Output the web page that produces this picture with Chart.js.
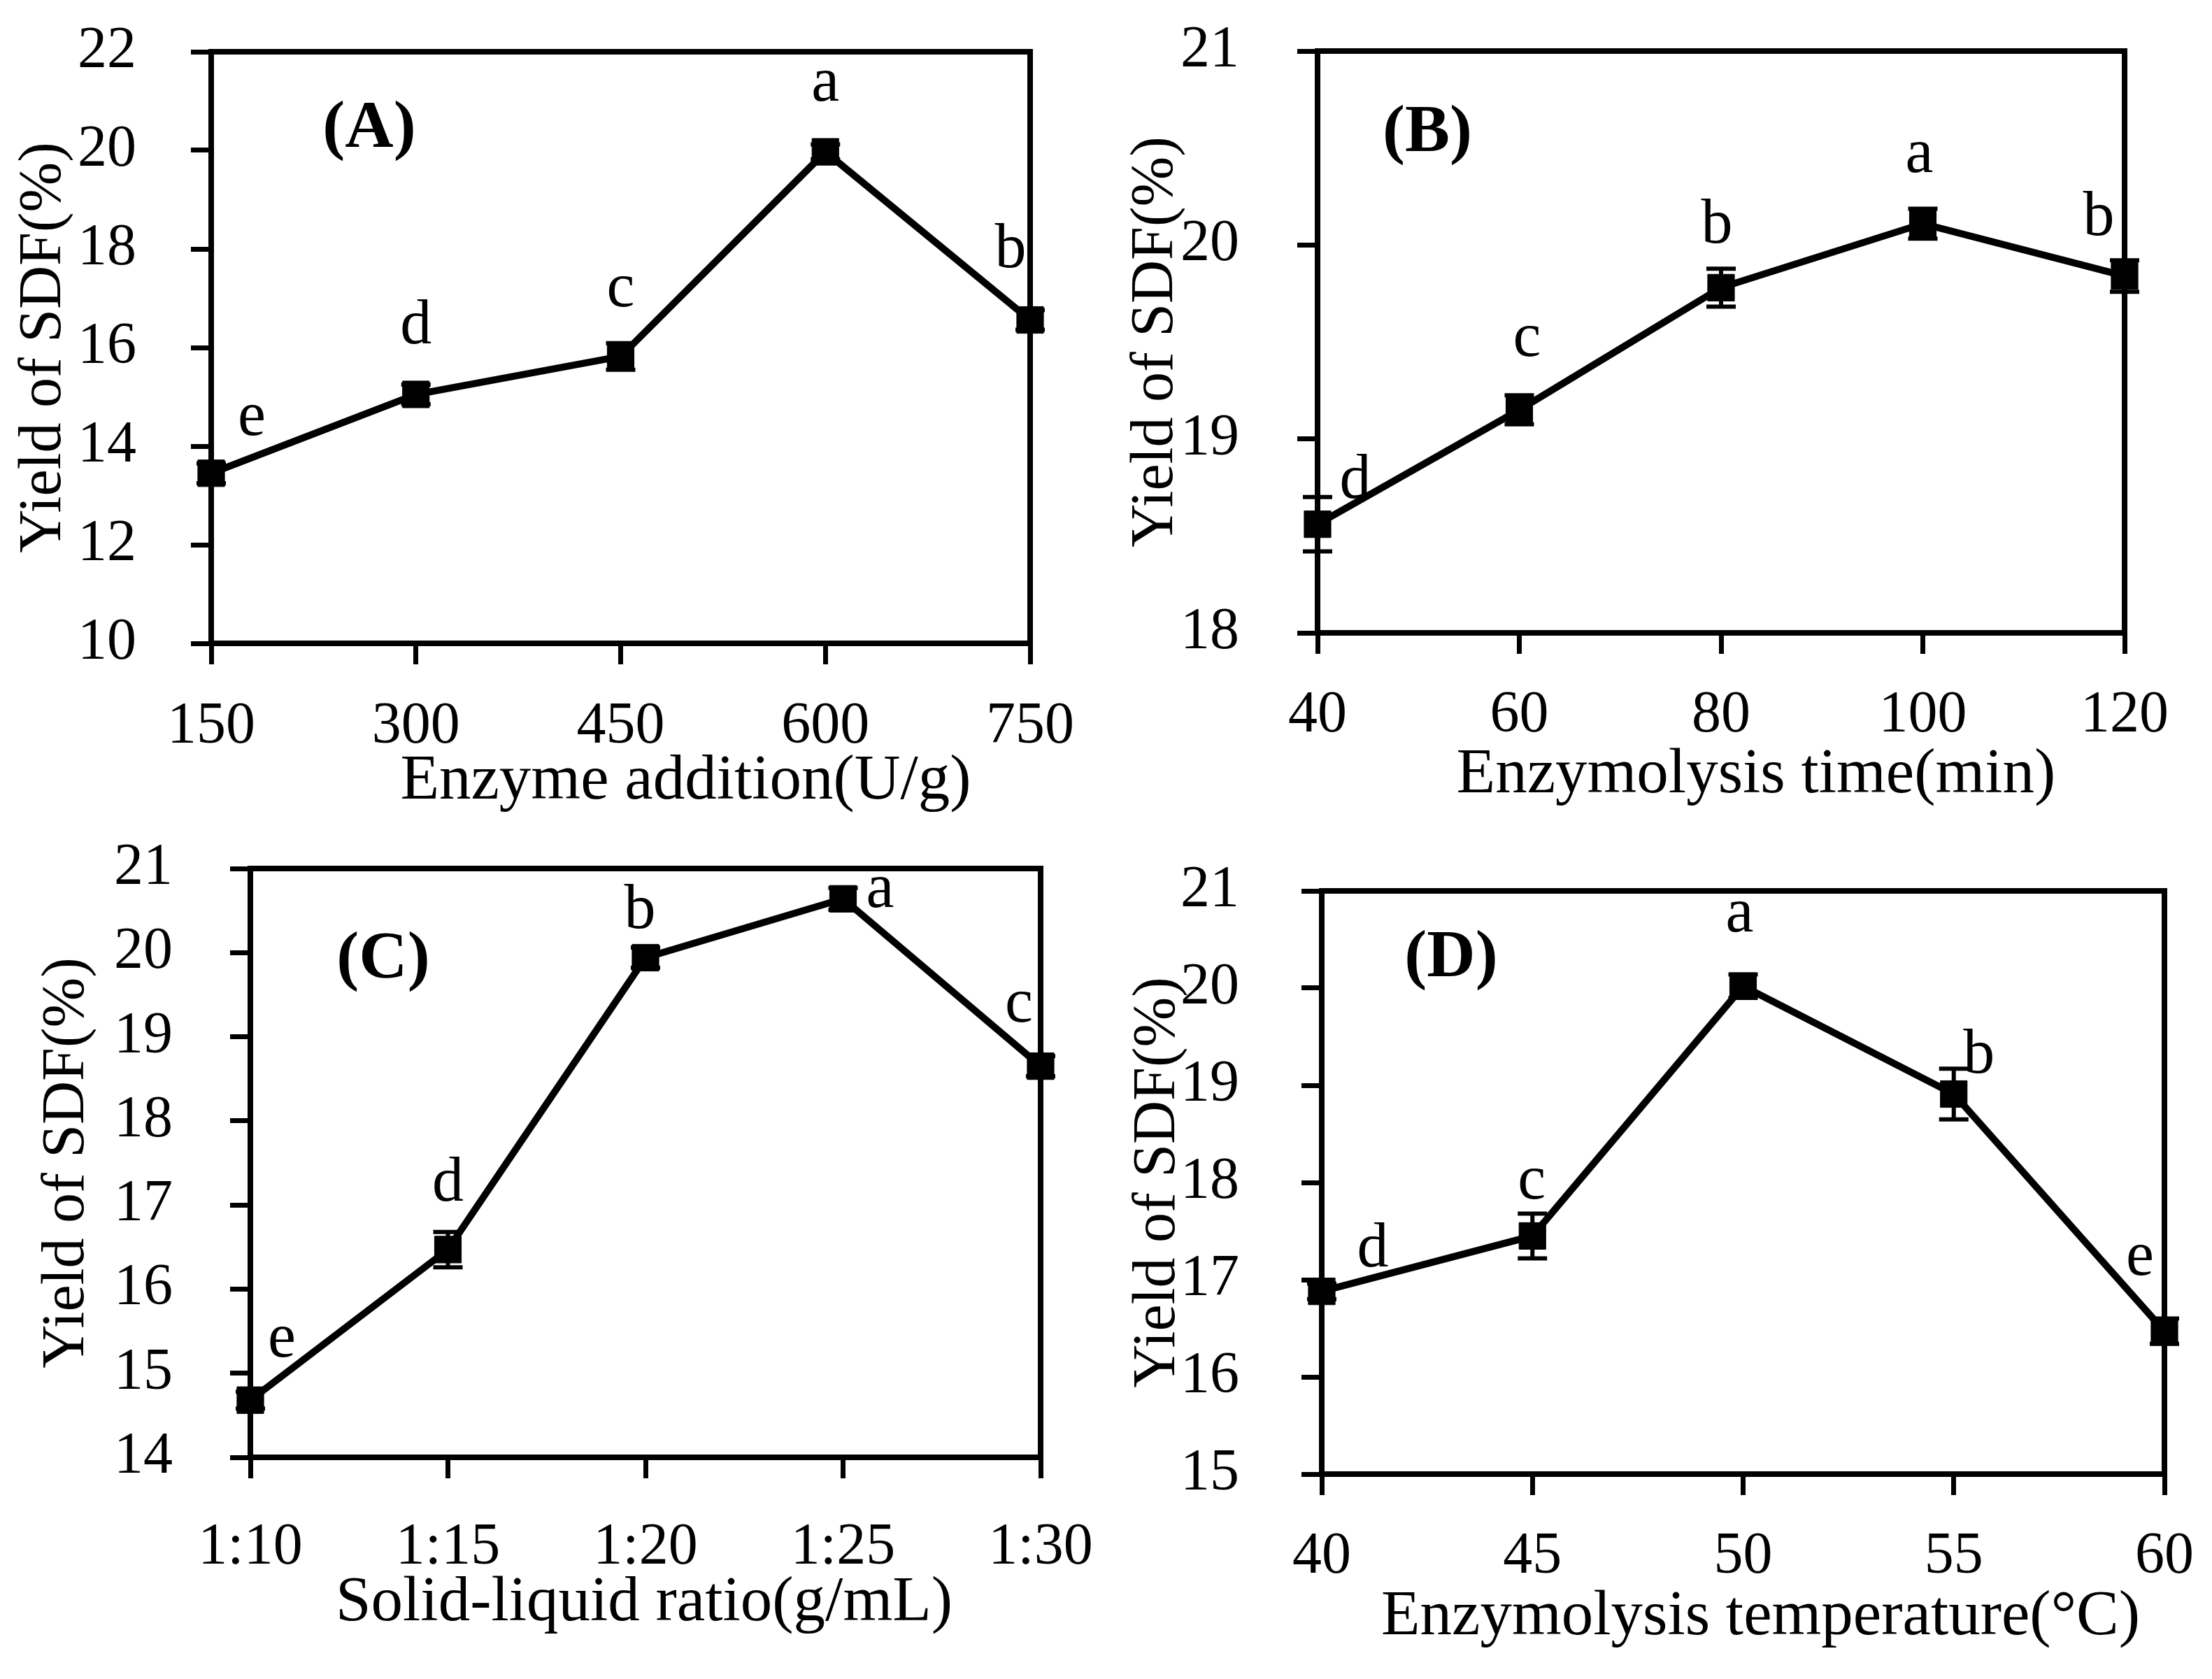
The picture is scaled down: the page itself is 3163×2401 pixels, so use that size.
<!DOCTYPE html>
<html lang="en">
<head>
    <meta charset="UTF-8">
    <title>Yield of SDF</title>
    <script src="https://cdn.jsdelivr.net/npm/chart.js@4.4.1/dist/chart.umd.min.js"></script>
    <style>
        body { margin: 0; background: #fff; }
        #wrap { position: relative; width: 3163px; height: 2401px; background: #fff; }
        canvas { position: absolute; }
    </style>
</head>
<body>
<div id="wrap">
    <canvas id="chartA" width="1580" height="1200" style="left:0px;top:0px"></canvas>
    <canvas id="chartB" width="1583" height="1200" style="left:1580px;top:0px"></canvas>
    <canvas id="chartC" width="1580" height="1231" style="left:0px;top:1170px"></canvas>
    <canvas id="chartD" width="1583" height="1201" style="left:1580px;top:1200px"></canvas>
</div>
<script>
// (A) enzyme addition
var enzymeLabels  = ['150', '300', '450', '600', '750'];
var enzymeYield   = [13.45, 15.05, 15.82, 19.97, 16.56];
var enzymeErr     = [0.2, 0.2, 0.27, 0.15, 0.2];
var enzymeLetters = ['e', 'd', 'c', 'a', 'b'];

// (B) enzymolysis time
var timeLabels  = ['40', '60', '80', '100', '120'];
var timeYield   = [18.56, 19.15, 19.78, 20.11, 19.84];
var timeErr     = [0.14, 0.075, 0.098, 0.077, 0.081];
var timeLetters = ['d', 'c', 'b', 'a', 'b'];

// (C) solid-liquid ratio
var ratioLabels  = ['1:10', '1:15', '1:20', '1:25', '1:30'];
var ratioYield   = [14.68, 16.47, 19.94, 20.64, 18.65];
var ratioErr     = [0.1, 0.21, 0.12, 0.13, 0.12];
var ratioLetters = ['e', 'd', 'b', 'a', 'c'];

// (D) enzymolysis temperature
var tempLabels  = ['40', '45', '50', '55', '60'];
var tempYield   = [16.88, 17.45, 20.02, 18.91, 16.47];
var tempErr     = [0.08, 0.23, 0.12, 0.26, 0.13];
var tempLetters = ['d', 'c', 'a', 'b', 'e'];

var SERIF = "'Liberation Serif', 'Times New Roman', serif";

function makePanel(id, p) {
    var marks = {
        id: 'marks',
        beforeDatasetsDraw: function (chart) {
            var ctx = chart.ctx, a = chart.chartArea;
            var ys = chart.scales.y;
            var pts = chart.getDatasetMeta(0).data;
            ctx.save();
            // top and right frame
            ctx.strokeStyle = '#000';
            ctx.lineWidth = 8;
            ctx.lineCap = 'square';
            ctx.beginPath();
            ctx.moveTo(a.left, a.top);
            ctx.lineTo(a.right, a.top);
            ctx.lineTo(a.right, a.bottom);
            ctx.stroke();
            // error bars
            ctx.lineWidth = 6;
            ctx.lineCap = 'butt';
            for (var i = 0; i < pts.length; i++) {
                var x = pts[i].x;
                var y1 = ys.getPixelForValue(p.values[i] + p.errors[i]);
                var y2 = ys.getPixelForValue(p.values[i] - p.errors[i]);
                ctx.beginPath();
                ctx.moveTo(x, y1); ctx.lineTo(x, y2);
                ctx.moveTo(x - 21, y1); ctx.lineTo(x + 21, y1);
                ctx.moveTo(x - 21, y2); ctx.lineTo(x + 21, y2);
                ctx.stroke();
            }
            ctx.restore();
        },
        afterDatasetsDraw: function (chart) {
            var ctx = chart.ctx, a = chart.chartArea;
            var pts = chart.getDatasetMeta(0).data;
            ctx.save();
            ctx.fillStyle = '#000';
            ctx.textAlign = 'center';
            ctx.textBaseline = 'alphabetic';
            ctx.font = '90px ' + SERIF;
            for (var i = 0; i < pts.length; i++) {
                ctx.fillText(p.letters[i], pts[i].x + p.letterPos[i][0], pts[i].y + p.letterPos[i][1]);
            }
            // x axis title, set a little off the plot centre as in the figure
            ctx.font = '91px ' + SERIF;
            ctx.fillText(p.xTitle, (a.left + a.right) / 2 + p.xTitlePos[0], a.bottom + p.xTitlePos[1]);
            ctx.font = 'bold 96px ' + SERIF;
            ctx.fillText(p.tag, a.left + p.tagPos[0], a.top + p.tagPos[1]);
            ctx.restore();
        }
    };

    return new Chart(document.getElementById(id), {
        type: 'line',
        data: {
            labels: p.labels,
            datasets: [{
                data: p.values,
                borderColor: '#000',
                borderWidth: 10,
                tension: 0,
                pointStyle: 'rect',
                pointRadius: 27,
                pointBackgroundColor: '#000',
                pointBorderColor: '#000',
                pointBorderWidth: 1,
                clip: false
            }]
        },
        options: {
            responsive: false,
            animation: false,
            devicePixelRatio: 1,
            events: [],
            layout: { padding: { left: 0, top: p.padTop, right: p.padRight, bottom: 0 } },
            plugins: { legend: { display: false }, tooltip: { enabled: false } },
            scales: {
                x: {
                    type: 'category',
                    offset: false,
                    grid: { display: true, drawOnChartArea: false, drawTicks: true, tickLength: 30, tickWidth: 7, tickColor: '#000' },
                    border: { display: true, color: '#000', width: 8 },
                    ticks: { color: '#000', padding: p.xTickPad, maxRotation: 0, autoSkip: false,
                             font: { family: SERIF, size: 84, lineHeight: 1.2 } },
                    title: { display: false },
                    afterFit: function (s) { s.height = p.xH; s.paddingLeft = 0; s.paddingRight = 0; }
                },
                y: {
                    type: 'linear',
                    min: p.yMin, max: p.yMax,
                    grid: { display: true, drawOnChartArea: false, drawTicks: true, tickLength: 29, tickWidth: 7, tickColor: '#000' },
                    border: { display: true, color: '#000', width: 8 },
                    ticks: { stepSize: p.yStep, color: '#000', padding: p.yTickPad,
                             font: { family: SERIF, size: 84, lineHeight: 1.2 } },
                    title: { display: true, text: 'Yield of SDF(%)', color: '#000',
                             font: { family: SERIF, size: 86, lineHeight: 1.2 },
                             padding: { top: p.yTitlePad, bottom: 0 } },
                    afterFit: function (s) { s.width = p.yW; s.paddingTop = 0; s.paddingBottom = 0; }
                }
            }
        },
        plugins: [marks]
    });
}

makePanel('chartA', {
    labels: enzymeLabels, values: enzymeYield, errors: enzymeErr, letters: enzymeLetters,
    letterPos: [[58, -55], [0, -73], [0, -72], [0, -73], [-28, -76]],
    tag: '(A)', tagPos: [226, 136],
    xTitle: 'Enzyme addition(U/g)', xTitlePos: [93, 222],
    yMin: 10, yMax: 22, yStep: 2,
    yW: 302, xH: 280, padTop: 74, padRight: 107,
    xTickPad: 40, yTickPad: 78, yTitlePad: 12
});

makePanel('chartB', {
    labels: timeLabels, values: timeYield, errors: timeErr, letters: timeLetters,
    letterPos: [[54, -38], [11, -77], [-6, -64], [-5, -74], [-37, -59]],
    tag: '(B)', tagPos: [157, 143],
    xTitle: 'Enzymolysis time(min)', xTitlePos: [50, 228],
    yMin: 18, yMax: 21, yStep: 1,
    yW: 304, xH: 295, padTop: 73, padRight: 125,
    xTickPad: 39, yTickPad: 83, yTitlePad: 22
});

makePanel('chartC', {
    labels: ratioLabels, values: ratioYield, errors: ratioErr, letters: ratioLetters,
    letterPos: [[45, -62], [0, -70], [-8, -43], [53, 12], [-31, -64]],
    tag: '(C)', tagPos: [190, 156],
    xTitle: 'Solid-liquid ratio(g/mL)', xTitlePos: [-2, 233],
    yMin: 14, yMax: 21, yStep: 1,
    yW: 358, xH: 317, padTop: 72, padRight: 92,
    xTickPad: 50, yTickPad: 82, yTitlePad: 45
});

makePanel('chartD', {
    labels: tempLabels, values: tempYield, errors: tempErr, letters: tempLetters,
    letterPos: [[73, -36], [-1, -53], [-5, -78], [36, -31], [-35, -81]],
    tag: '(D)', tagPos: [185, 122],
    xTitle: 'Enzymolysis temperature(\u00B0C)', xTitlePos: [25, 229],
    yMin: 15, yMax: 21, yStep: 1,
    yW: 310, xH: 293, padTop: 74, padRight: 68,
    xTickPad: 39, yTickPad: 89, yTitlePad: 25
});
</script>
</body>
</html>
